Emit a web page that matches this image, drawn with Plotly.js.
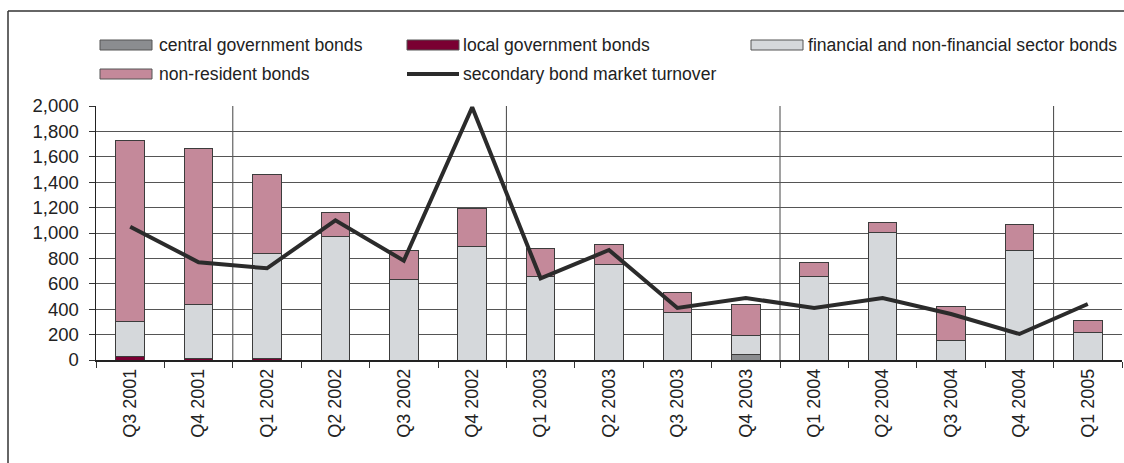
<!DOCTYPE html>
<html>
<head>
<meta charset="utf-8">
<script src="https://cdn.plot.ly/plotly-3.0.1.min.js"></script>
<style>
  html, body { margin: 0; padding: 0; background: #fff; }
  #chart { width: 1124px; height: 463px; }
</style>
</head>
<body>
<div id="chart"></div>
<script>
// ---- data ----
const categories = ["Q3 2001","Q4 2001","Q1 2002","Q2 2002","Q3 2002","Q4 2002","Q1 2003","Q2 2003","Q3 2003","Q4 2003","Q1 2004","Q2 2004","Q3 2004","Q4 2004","Q1 2005"];
const centralGov = [null,null,null,null,null,null,null,null,null,45,null,null,null,null,null];
const localGov   = [25,10,10,null,null,null,null,null,null,null,null,null,null,null,null];
const financial  = [275,430,825,975,630,895,660,755,375,145,660,1005,155,865,220];
const nonResident= [1430,1225,625,190,235,300,220,155,160,250,110,80,270,205,95];
const turnover   = [1050,770,722,1100,782,1990,643,866,410,488,410,488,362,205,441];
const seriesNames = ["central government bonds","local government bonds","financial and non-financial sector bonds","non-resident bonds","secondary bond market turnover"];
const yTicks = [0,200,400,600,800,1000,1200,1400,1600,1800,2000];

// ---- geometry helpers (layout only) ----
const W = 1124, H = 463, ML = 96, MR = 2, MT = 106, MB = 103;
const PW = W - ML - MR, PH = H - MT - MB;
const px = v => (v - ML) / PW;
const py = v => (H - MB - v) / PH;

const colors = ["#8b8d90","#7a0032","#d5d8db","#c4899a","#2b2b2b"];
const outline = {color: "#3c3c3c", width: 1};
const barW = 0.42;

const traces = [
  {type:"bar", name:seriesNames[0], x:categories, y:centralGov, marker:{color:colors[0], line:outline}, width:barW},
  {type:"bar", name:seriesNames[1], x:categories, y:localGov, marker:{color:colors[1], line:outline}, width:barW},
  {type:"bar", name:seriesNames[2], x:categories, y:financial, marker:{color:colors[2], line:outline}, width:barW},
  {type:"bar", name:seriesNames[3], x:categories, y:nonResident, marker:{color:colors[3], line:outline}, width:barW},
  {type:"scatter", mode:"lines", name:seriesNames[4], x:categories, y:turnover, line:{color:colors[4], width:4}}
];

const shapes = [];
const annotations = [];

// year separators computed from category years
for (let i = 1; i < categories.length; i++) {
  if (categories[i].split(" ")[1] !== categories[i-1].split(" ")[1]) {
    shapes.push({type:"line", xref:"x", yref:"paper", x0:i-0.5, x1:i-0.5, y0:0, y1:1,
                 line:{color:"#444", width:1}, layer:"below"});
  }
}

// outer frame (left and top edges)
shapes.push({type:"line", xref:"paper", yref:"paper", x0:px(8), x1:px(8), y0:py(11), y1:py(470), line:{color:"#333", width:1.5}});
shapes.push({type:"line", xref:"paper", yref:"paper", x0:px(8), x1:px(1130), y0:py(11), y1:py(11), line:{color:"#333", width:1.5}});

// custom legend
const legendItems = [
  {i:0, sx:100, tx:157, row:0},
  {i:1, sx:407, tx:461, row:0},
  {i:2, sx:751, tx:806, row:0},
  {i:3, sx:100, tx:157, row:1},
  {i:4, sx:407, tx:461, row:1}
];
const rowY = [45, 74];
legendItems.forEach(it => {
  const cy = rowY[it.row];
  if (it.i === 4) {
    shapes.push({type:"line", xref:"paper", yref:"paper", x0:px(it.sx), x1:px(it.sx+52), y0:py(cy), y1:py(cy),
                 line:{color:colors[4], width:4}});
  } else {
    shapes.push({type:"rect", xref:"paper", yref:"paper", x0:px(it.sx), x1:px(it.sx+52), y0:py(cy-5), y1:py(cy+5),
                 fillcolor:colors[it.i], line:{color:"#555", width:1}});
  }
  annotations.push({xref:"paper", yref:"paper", x:px(it.tx), y:py(cy), xanchor:"left", yanchor:"middle",
                    text:seriesNames[it.i], showarrow:false, font:{size:17.6, color:"#222"}});
});

const layout = {
  width: W, height: H,
  margin: {l:ML, r:MR, t:MT, b:MB, pad:0},
  paper_bgcolor: "#fff", plot_bgcolor: "#fff",
  font: {family: "Liberation Sans, Arial, sans-serif", color: "#222"},
  barmode: "stack",
  showlegend: false,
  xaxis: {
    type: "category",
    tickangle: -90,
    ticks: "outside", ticklen: 6, tickcolor: "#333", tickwidth: 1,
    tickson: "boundaries",
    showgrid: false,
    showline: true, linecolor: "#222", linewidth: 1.5,
    tickfont: {size: 18, color: "#222"},
    range: [-0.5, categories.length - 0.5]
  },
  yaxis: {
    range: [0, 2000],
    tickvals: yTicks,
    ticktext: yTicks.map(v => v.toLocaleString("en-US")),
    ticks: "outside", ticklen: 6, tickcolor: "#333",
    ticklabelstandoff: 6,
    showgrid: true, gridcolor: "#555", gridwidth: 1,
    showline: true, linecolor: "#222", linewidth: 1.5,
    zeroline: false,
    tickfont: {size: 18.5, color: "#222"}
  },
  shapes: shapes,
  annotations: annotations
};

Plotly.newPlot("chart", traces, layout, {displayModeBar: false, staticPlot: true});
</script>
</body>
</html>
